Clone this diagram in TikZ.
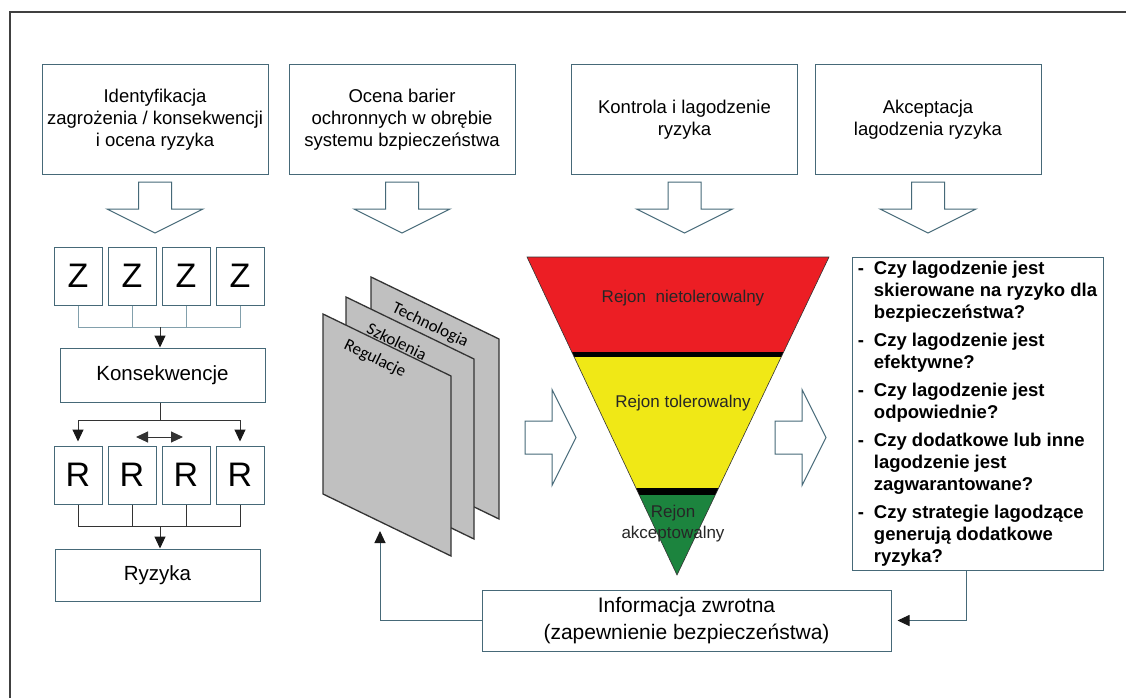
\documentclass[tikz,border=0pt]{standalone}
\usepackage{fontspec}
\setmainfont{Liberation Sans}
\newfontfamily\layerfont{Carlito}
\usepackage{tikz}
\usepackage{xcolor}
\usetikzlibrary{arrows.meta}

\definecolor{boxline}{RGB}{70,105,120}
\definecolor{zline}{RGB}{130,160,172}
\definecolor{layergray}{RGB}{192,192,192}
\definecolor{riskred}{RGB}{236,30,36}
\definecolor{riskyellow}{RGB}{240,232,22}
\definecolor{riskgreen}{RGB}{28,132,62}

\newcommand{\HollowArrow}[3]{%
	\draw[hollow, shift={(#1,#2)}, rotate=#3] (0,-16.5) -- (27,-16.5) -- (27,-48) -- (51,0) -- (27,48) -- (27,16.5) -- (0,16.5) -- cycle;}
\newcommand{\qdash}{\makebox[16pt][l]{-}}
\newcommand{\qind}{\hspace*{16pt}}

\tikzset{
	headbox/.style={draw=boxline, line width=1pt, minimum width=226pt, minimum height=109pt, align=center, font=\fontsize{18.5}{22}\selectfont},
	letterbox/.style={draw=boxline, line width=1pt, minimum width=48pt, minimum height=58pt, inner sep=0pt, font=\fontsize{34}{34}\selectfont},
	wordbox/.style={draw=boxline, line width=1pt, minimum width=205pt, inner sep=0pt, font=\fontsize{20.5}{24}\selectfont},
	hollow/.style={draw=boxline, line width=1pt, fill=white},
	layer/.style={draw=black!80, line width=1.3pt, fill=layergray},
	layerlabel/.style={anchor=west, rotate=-25.8, inner sep=1pt, font=\layerfont\fontsize{17}{17}\selectfont},
	risktext/.style={align=center, font=\fontsize{17}{21}\selectfont, text=black!85},
	conn/.style={draw=black!80, line width=1pt},
	zconn/.style={draw=zline, line width=1pt},
	fback/.style={draw=boxline, line width=1pt},
	tip/.style={-{Triangle[length=12pt,width=11pt,color=black!90]}}
}

\begin{document}
\begin{tikzpicture}[x=1pt, y=-1pt]
	\path[fill=white, use as bounding box] (0,0) rectangle (1126,698);
	\draw[black!75, line width=1.2pt] (1126,12) -- (10,12) -- (10,698);
	
	\node[headbox] (ident) at (155,119.5) {Identyfikacja\\zagrożenia / konsekwencji\\i ocena ryzyka};
	\node[headbox] (bar) at (402,119.5) {Ocena barier\\ochronnych w obrębie\\systemu bzpieczeństwa};
	\node[headbox] (kontr) at (684.5,119.5) {Kontrola i lagodzenie\\ryzyka};
	\node[headbox] (akc) at (928,119.5) {Akceptacja\\lagodzenia ryzyka};
	
	\HollowArrow{155}{182}{-90}
	\HollowArrow{402}{182}{-90}
	\HollowArrow{684.5}{182}{-90}
	\HollowArrow{928}{182}{-90}
	
	\foreach \i/\x in {1/78,2/132,3/186,4/240} {
		\node[letterbox] (z\i) at (\x,276) {Z};
		\node[letterbox] (r\i) at (\x,475) {R};
	}
	
	\node[wordbox, minimum height=54pt] (kons) at (162.5,375) {Konsekwencje};
	\node[wordbox, minimum height=52pt] (ryz) at (157.5,575) {Ryzyka};
	
	\coordinate (zbus) at (160,327);
	\coordinate (kbus) at (160,420);
	\coordinate (rbus) at (160,526);
	\coordinate (swl) at (136,437);
	\coordinate (swr) at (183,437);
	
	\draw[zconn] (z1.south) |- (z4.south |- zbus) -- (z4.south);
	\draw[zconn] (z2.south) -- (z2.south |- zbus);
	\draw[zconn] (z3.south) -- (z3.south |- zbus);
	\draw[conn, tip] (zbus) -- (zbus |- kons.north);
	
	\draw[conn] (kbus |- kons.south) -- (kbus);
	\draw[conn] (r1.north |- kbus) -- (r4.north |- kbus);
	\draw[conn, tip, shorten >=4pt] (r1.north |- kbus) -- (r1.north);
	\draw[conn, tip, shorten >=4pt] (r4.north |- kbus) -- (r4.north);
	\draw[conn, {Triangle[length=12pt,width=11pt]}-{Triangle[length=12pt,width=11pt]}] (swl) -- (swr);
	
	\draw[conn] (r1.south) |- (r4.south |- rbus) -- (r4.south);
	\draw[conn] (r2.south) -- (r2.south |- rbus);
	\draw[conn] (r3.south) -- (r3.south |- rbus);
	\draw[conn, tip] (rbus) -- (rbus |- ryz.north);
	
	\foreach \x/\y/\name/\lab in {371/277/tech/Technologia, 346/297/szk/Szkolenia, 323/314/reg/Regulacje} {
		\draw[layer] (\x,\y) -- ++(128,62) -- ++(0,180) -- ++(-128,-62) -- cycle;
		\node[layerlabel] (\name) at (\x+21,\y+30) {\lab};
	}
	
	\coordinate (tl) at (527,257);
	\coordinate (tr) at (829,257);
	\coordinate (tp) at (677,575);
	\begin{scope}
		\clip (tl) -- (tr) -- (tp) -- cycle;
		\fill[riskred] (500,250) rectangle (860,352);
		\fill[black] (500,352) rectangle (860,357);
		\fill[riskyellow] (500,357) rectangle (860,488);
		\fill[black] (500,488) rectangle (860,495);
		\fill[riskgreen] (500,495) rectangle (860,580);
	\end{scope}
	\draw[black!80, line width=0.6pt] (tl) -- (tr) -- (tp) -- cycle;
	
	\node[risktext] (nietol) at (683,298) {Rejon\ \ nietolerowalny};
	\node[risktext] (tol) at (683,403) {Rejon tolerowalny};
	\node[risktext] (akcept) at (673,524) {Rejon\\akceptowalny};
	
	\HollowArrow{525}{437.5}{0}
	\HollowArrow{775}{437.5}{0}
	
	\node[draw=boxline, line width=1pt, minimum width=251pt, minimum height=313pt, align=left, font=\bfseries\fontsize{18.5}{22}\selectfont] (quest) at (977.5,413.5) {\qdash Czy lagodzenie jest\\\qind skierowane na ryzyko dla\\\qind bezpieczeństwa?\\[6pt]\qdash Czy lagodzenie jest\\\qind efektywne?\\[6pt]\qdash Czy lagodzenie jest\\\qind odpowiednie?\\[6pt]\qdash Czy dodatkowe lub inne\\\qind lagodzenie jest\\\qind zagwarantowane?\\[6pt]\qdash Czy strategie lagodzące\\\qind generują dodatkowe\\\qind ryzyka?};
	
	\node[draw=boxline, line width=1pt, minimum width=409pt, minimum height=61pt, align=center, font=\fontsize{21}{27}\selectfont] (info) at (686.5,620.5) {Informacja zwrotna\\(zapewnienie bezpieczeństwa)};
	
	\coordinate (fbin) at (380,531);
	\coordinate (qout) at (966,570);
	
	\draw[fback, tip] (info.west) -| (fbin);
	\draw[fback, tip, shorten >=6pt] (qout) |- (info.east);
	
\end{tikzpicture}
\end{document}
